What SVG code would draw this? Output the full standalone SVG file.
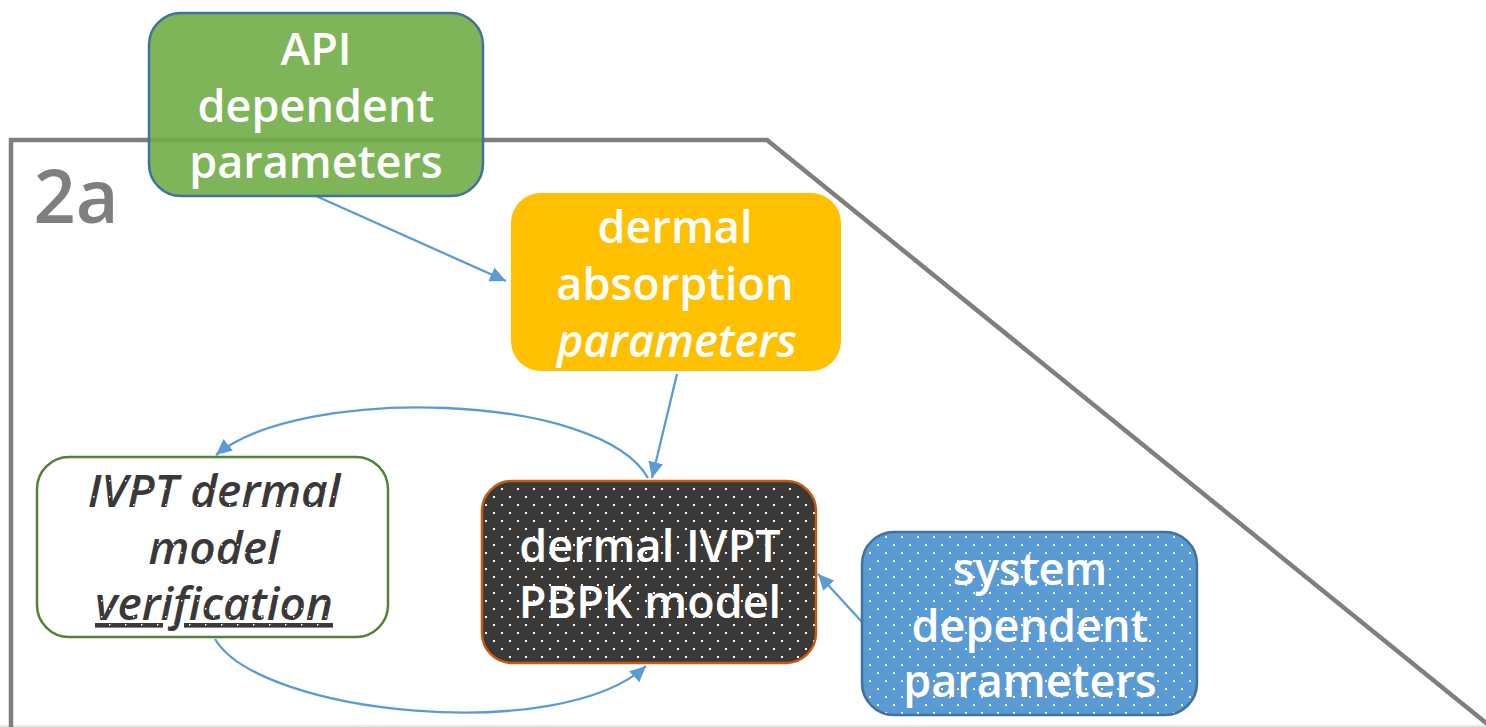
<svg xmlns="http://www.w3.org/2000/svg" width="1486" height="727" viewBox="0 0 1486 727">
  <style>
    text { font-family: "Open Sans", "Noto Sans", "Liberation Sans", sans-serif; font-weight: 600; text-anchor: middle; }
    .lbl { font-size: 45px; fill: #ffffff; }
    .ital { font-style: italic; }
    .conn { fill: none; stroke: #5B9BD5; stroke-width: 2.3; }
  </style>
  <defs>
    <pattern id="dotsDark" x="493" y="496" width="16" height="16" patternUnits="userSpaceOnUse">
      <rect width="16" height="16" fill="#3B3838"/>
      <rect x="0" y="0" width="2" height="2" fill="#ffffff"/>
      <rect x="8" y="8" width="2" height="2" fill="#ffffff"/>
    </pattern>
    <pattern id="dotsBlue" x="493" y="496" width="16" height="16" patternUnits="userSpaceOnUse">
      <rect width="16" height="16" fill="#5B9BD5"/>
      <rect x="0" y="0" width="2" height="2" fill="#ffffff"/>
      <rect x="8" y="8" width="2" height="2" fill="#ffffff"/>
    </pattern>
    <pattern id="dotsText" x="493" y="496" width="16" height="16" patternUnits="userSpaceOnUse">
      <rect width="16" height="16" fill="#3A3838"/>
      <rect x="0" y="0" width="1.5" height="1.5" fill="#ffffff"/>
      <rect x="8" y="8" width="1.5" height="1.5" fill="#ffffff"/>
    </pattern>
    <marker id="arr" markerUnits="userSpaceOnUse" markerWidth="17" markerHeight="15" refX="16" refY="7.5" orient="auto">
      <path d="M0,0 L16,7.5 L0,15 Z" fill="#5B9BD5"/>
    </marker>
  </defs>

  <!-- frame -->
  <g id="frame">
    <rect x="0" y="725" width="1486" height="2" fill="#e9e9e9"/>
    <path d="M11,730 L11,140 L767,140 L1496,731" fill="none" stroke="#7F7F7F" stroke-width="4.5" stroke-linejoin="miter"/>
    <text x="76" y="223" style="font-size:74px; fill:#7F7F7F;">2a</text>
  </g>

  <g id="connectors">
    <path class="conn" d="M316,196 L506,281" marker-end="url(#arr)"/>
    <path class="conn" d="M677,374 L652,478" marker-end="url(#arr)"/>
    <path class="conn" d="M648,478 C600,392 300,385 216,455" marker-end="url(#arr)"/>
    <path class="conn" d="M215,639 C260,715 560,745 646,666" marker-end="url(#arr)"/>
    <path class="conn" d="M862,622 L818,574" marker-end="url(#arr)"/>
  </g>

  <g id="node-api">
    <rect x="149" y="13" width="334" height="183" rx="32" fill="#70AD47" fill-opacity="0.9" stroke="#41719C" stroke-width="2.5"/>
    <text class="lbl" x="316" y="65">API</text>
    <text class="lbl" x="316" y="122">dependent</text>
    <text class="lbl" x="316" y="178">parameters</text>
  </g>

  <g id="node-absorption">
    <rect x="511" y="193" width="330" height="178" rx="30" fill="#FFC000"/>
    <text class="lbl" x="675" y="243">dermal</text>
    <text class="lbl" x="675" y="300">absorption</text>
    <text class="lbl ital" x="677" y="357">parameters</text>
  </g>

  <g id="node-pbpk">
    <rect x="482" y="481" width="334" height="182" rx="30" fill="url(#dotsDark)" stroke="#C55A11" stroke-width="2.5"/>
    <text class="lbl" x="650" y="562">dermal IVPT</text>
    <text class="lbl" x="650" y="618">PBPK model</text>
  </g>

  <g id="node-verification">
    <rect x="37" y="457" width="351" height="180" rx="32" fill="#ffffff" stroke="#548235" stroke-width="2.5"/>
    <text class="ital" x="214" y="507" style="font-size:46px; fill:url(#dotsText);">IVPT dermal</text>
    <text class="ital" x="214" y="564" style="font-size:46px; fill:url(#dotsText);">model</text>
    <text class="ital" x="214" y="620" style="font-size:46px; fill:url(#dotsText); text-decoration:underline;">verification</text>
  </g>

  <g id="node-system">
    <rect x="862" y="532" width="335" height="183" rx="32" fill="url(#dotsBlue)" stroke="#41719C" stroke-width="2.5"/>
    <text class="lbl" x="1030" y="585">system</text>
    <text class="lbl" x="1030" y="642">dependent</text>
    <text class="lbl" x="1030" y="697">parameters</text>
  </g>
</svg>
